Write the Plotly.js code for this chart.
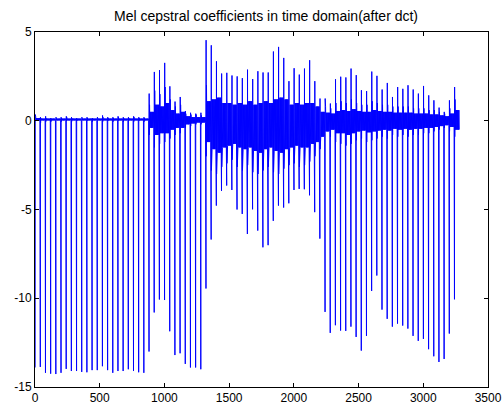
<!DOCTYPE html>
<html>
<head>
<meta charset="utf-8">
<script src="https://cdn.plot.ly/plotly-3.0.1.min.js"></script>
<style>html,body{margin:0;padding:0;background:#fff;}#chart{width:502px;height:404px;}</style>
</head>
<body>
<div id="chart"></div>
<script>
// Frame length (samples per frame) and per-frame values
var frameLength = 40;
// c0: deep negative spike at the start of each frame
var c0 = [-13.9,-13.87,-14.2,-14.25,-14.27,-14.2,-13.98,-14.1,-14.1,-14.15,-14.17,-14.05,-14.05,-13.83,-14.05,-14.2,-14.1,-14.1,-14.0,-14.1,-14.17,-14.2,
  -13.0,-10.8,-10.07,-10.1,-11.86,-13.2,-13.1,-13.7,-13.9,-13.9,-14.0,
  -9.45,-6.69,-4.78,-3.95,-3.65,-3.9,-5.0,-5.25,-6.38,-4.99,-6.19,-7.13,-7.01,-5.64,-4.78,-4.89,-4.65,-3.9,-3.84,-3.86,-4.2,-5.15,-6.64,
  -10.77,-11.95,-11.52,-11.82,-11.84,-11.6,-12.18,-12.95,-12.12,-9.59,-8.72,-10.64,-11.16,-11.6,-11.43,-11.54,-11.71,-12.12,-12.4,-12.29,-12.87,-13.27,-13.59,-13.42,-11.99,-10.06];
// c1: positive peak right after the spike
var c1 = [0.35,0.2,0.25,0.15,0.2,0.2,0.25,0.2,0.15,0.2,0.2,0.15,0.2,0.3,0.2,0.2,0.25,0.2,0.2,0.25,0.2,0.2,
  1.53,2.75,2.85,3.26,1.94,1.08,1.34,0.55,0.45,0.4,0.45,
  4.54,4.25,3.35,2.66,2.7,2.55,2.5,2.4,2.88,2.35,2.79,2.72,2.72,3.9,4.16,3.54,2.23,2.96,2.6,2.94,3.41,2.23,1.25,
  1.25,0.97,2.34,2.48,2.44,2.94,2.57,1.72,1.67,2.77,2.53,1.76,2.13,1.34,1.9,1.8,2.0,1.76,1.53,1.96,1.43,1.15,0.74,0.5,1.15,1.9];
// hi / lo: secondary peak and deepest dip of the other coefficients in each frame
var hi = [0.25,0.15,0.15,0.12,0.15,0.15,0.2,0.15,0.12,0.15,0.15,0.12,0.15,0.2,0.15,0.15,0.2,0.15,0.15,0.2,0.15,0.15,
  0.9,1.7,1.5,1.9,1.2,0.8,0.9,0.4,0.35,0.35,0.3,
  2.0,2.0,2.2,1.8,1.7,1.6,1.7,1.5,1.8,1.5,1.7,1.8,1.7,2.0,2.2,2.0,1.6,1.8,1.6,1.7,1.8,1.4,0.9,
  0.8,0.7,1.0,1.1,1.0,1.2,1.0,0.9,0.9,1.1,1.0,0.9,0.9,0.8,0.8,0.8,0.8,0.7,0.7,0.7,0.6,0.6,0.5,0.4,0.7,1.2];
var lo = [-0.15,-0.12,-0.05,-0.05,0.0,-0.05,0.0,-0.05,0.0,-0.05,0.0,-0.05,0.0,-0.05,0.0,-0.05,0.0,-0.05,0.0,-0.05,0.0,-0.05,
  -0.8,-1.5,-1.3,-1.2,-1.0,-0.8,-0.7,-0.4,-0.3,-0.2,-0.2,
  -2.0,-2.8,-3.0,-2.6,-2.4,-2.2,-2.6,-2.8,-2.5,-2.9,-3.0,-2.8,-2.6,-2.9,-3.0,-2.7,-2.5,-2.4,-2.6,-2.5,-2.3,-2.0,-1.6,
  -1.0,-0.9,-1.2,-1.3,-1.4,-1.3,-1.1,-1.0,-1.2,-1.1,-1.0,-0.9,-1.0,-0.8,-0.9,-0.8,-0.9,-0.8,-0.8,-0.7,-0.7,-0.6,-0.5,-0.4,-0.6,-0.9];
// tailHi / tailLo: level of the higher-order coefficients at the end of each frame
var tailHi = [0.15,0.12,0.12,0.12,0.12,0.12,0.12,0.12,0.12,0.12,0.12,0.12,0.12,0.12,0.12,0.12,0.12,0.12,0.12,0.12,0.12,0.12,
  0.5,0.9,0.8,1.0,0.6,0.4,0.5,0.25,0.2,0.2,0.2,
  1.1,1.2,1.3,1.0,1.0,0.9,1.0,0.9,1.1,0.9,1.0,1.1,1.0,1.2,1.3,1.2,0.9,1.0,0.9,1.0,1.0,0.8,0.5,
  0.45,0.4,0.55,0.6,0.55,0.65,0.55,0.5,0.5,0.6,0.55,0.5,0.5,0.45,0.45,0.45,0.45,0.4,0.4,0.4,0.35,0.35,0.3,0.25,0.4,0.6];
var tailLo = [0.0,0.02,0.02,0.02,0.02,0.02,0.02,0.02,0.02,0.02,0.02,0.02,0.02,0.02,0.02,0.02,0.02,0.02,0.02,0.02,0.02,0.02,
  -0.4,-0.8,-0.7,-0.7,-0.5,-0.4,-0.4,-0.2,-0.15,-0.1,-0.1,
  -1.2,-1.6,-1.8,-1.5,-1.4,-1.3,-1.5,-1.6,-1.5,-1.7,-1.8,-1.6,-1.5,-1.7,-1.8,-1.6,-1.5,-1.4,-1.5,-1.5,-1.3,-1.2,-0.9,
  -0.6,-0.5,-0.7,-0.7,-0.8,-0.7,-0.6,-0.55,-0.65,-0.6,-0.55,-0.5,-0.55,-0.45,-0.5,-0.45,-0.5,-0.45,-0.45,-0.4,-0.4,-0.35,-0.3,-0.25,-0.35,-0.5];
var xTicks = [0,500,1000,1500,2000,2500,3000,3500];
var yTicks = [-15,-10,-5,0,5];

var xs = [], ys = [];
for (var k = 0; k < c0.length; k++) {
  var base = k * frameLength;
  xs.push(base + 1); ys.push(c0[k]);
  xs.push(base + 2); ys.push(c1[k]);
  xs.push(base + 3); ys.push(lo[k]);
  xs.push(base + 5); ys.push(hi[k]);
  for (var j = 0; j < 11; j++) {
    xs.push(base + 8 + 3 * j);
    ys.push(j % 2 === 0 ? tailLo[k] : tailHi[k]);
  }
}

var trace = {x: xs, y: ys, type: 'scatter', mode: 'lines',
  line: {color: '#0000ff', width: 1}, hoverinfo: 'skip'};

var axisCommon = {showgrid: false, zeroline: false, showline: true, mirror: 'ticks',
  linecolor: '#000', linewidth: 1, ticks: 'inside', ticklen: 4, tickcolor: '#000',
  tickfont: {family: 'Liberation Sans, Arial, sans-serif', size: 12, color: '#000'}};

var layout = {
  width: 502, height: 404,
  margin: {l: 35, r: 14, t: 32, b: 17},
  paper_bgcolor: '#fff', plot_bgcolor: '#fff',
  showlegend: false,
  title: {text: 'Mel cepstral coefficients in time domain(after dct)',
    font: {family: 'Liberation Sans, Arial, sans-serif', size: 14, color: '#000'},
    x: 0.53, xanchor: 'center', y: 0.96, yanchor: 'middle'},
  xaxis: Object.assign({}, axisCommon, {range: [0, 3500], tickvals: xTicks, ticktext: xTicks.map(String)}),
  yaxis: Object.assign({}, axisCommon, {range: [-15, 5], tickvals: yTicks, ticktext: yTicks.map(String)})
};

Plotly.newPlot('chart', [trace], layout, {displayModeBar: false, staticPlot: true});
</script>
</body>
</html>
